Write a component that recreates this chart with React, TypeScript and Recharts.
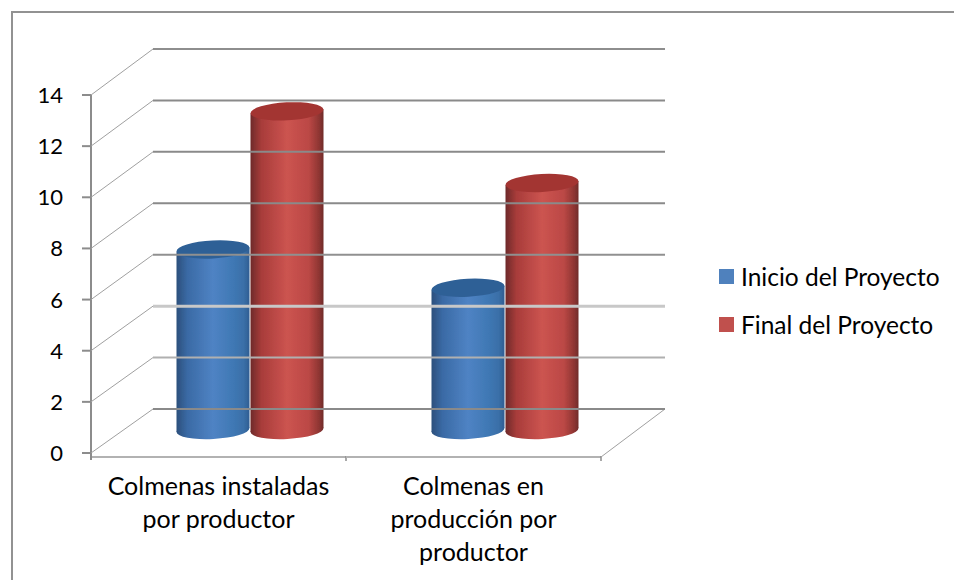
import { BarChart, Bar, XAxis, YAxis, Legend } from "recharts"

const categories = ["Colmenas instaladas\npor productor", "Colmenas en\nproducción por\nproductor"]
const inicio = [7.1, 5.6]
const final = [12.5, 9.7]
const yTicks = [0, 2, 4, 6, 8, 10, 12, 14]
// gridline colours as they come out in the picture, some are washed out
const gridColors: Record<number, string> = { 0: "#8a8a8a", 2: "#b0b0b0", 4: "#c8c8c8", 6: "#909090", 8: "#8a8a8a", 10: "#8a8a8a", 12: "#8a8a8a", 14: "#8e8e8e" }

const data = categories.map((name, i) => ({ name, inicio: inicio[i], final: final[i] }))

const FONT = "Lato, sans-serif"
const AXIS = "#8c8c8c"
const DEPTH_X = 62
const BAND = 255
const BACK_RIGHT = 665

function YTick({ x, y, payload }: any) {
  const backY = y - 44 - (payload.value / 14) * 2
  const color = gridColors[payload.value]
  return (
    <g>
      <path d={`M${x} ${y}L${x + DEPTH_X} ${backY}`} stroke="#a0a0a0" strokeWidth={1} fill="none" />
      <path d={`M${x + DEPTH_X} ${backY}H${BACK_RIGHT}`} stroke={color} strokeWidth={payload.value === 4 ? 3 : 2} fill="none" />
      <path d={`M${x - 9} ${y}H${x}`} stroke={AXIS} strokeWidth={2} />
      {payload.value === 0 && <path d={`M${x} ${y}V${y + 7}`} stroke={AXIS} strokeWidth={2} />}
      <text x={x - 28} y={y + 8} textAnchor="end" fontFamily={FONT} fontSize={22} fill="#000">
        {payload.value}
      </text>
    </g>
  )
}

function XTick({ x, y, payload, index }: any) {
  const left = x - BAND / 2
  const right = x + BAND / 2
  const floorY = y + 4
  const lines = String(payload.value).split("\n")
  return (
    <g>
      <path d={`M${left} ${floorY}H${right}`} stroke="#b2b2b2" strokeWidth={2} />
      <path d={`M${right} ${floorY - 1}V${floorY + 4}`} stroke={AXIS} strokeWidth={1.5} />
      {index === categories.length - 1 && (
        <path d={`M${right} ${floorY}L${BACK_RIGHT} ${floorY - 48}`} stroke="#a0a0a0" strokeWidth={1} fill="none" />
      )}
      {lines.map((line, i) => (
        <text key={line} x={x} y={y + 42 + i * 33} textAnchor="middle" fontFamily={FONT} fontSize={25} fill="#000">
          {line}
        </text>
      ))}
    </g>
  )
}

function Cylinder({ x, y, width, height, dataKey }: any) {
  const cx = x + width / 2 + 31
  const rx = width / 2 - 0.5
  const ry = 9
  const tilt = 2
  const top = y - 22
  const base = y + height - 23
  const grad = dataKey === "inicio" ? "url(#bodyBlue)" : "url(#bodyRed)"
  const cap = dataKey === "inicio" ? "#2f6096" : "#a33433"
  const side = `M${cx - rx} ${top + tilt}L${cx + rx} ${top - tilt}V${base - tilt}L${cx - rx} ${base + tilt}Z`
  return (
    <g filter="url(#soft)">
      <ellipse cx={cx} cy={base} rx={rx} ry={ry} fill={grad} transform={`rotate(-3 ${cx} ${base})`} />
      <path d={side} fill={grad} />
      <ellipse cx={cx} cy={top} rx={rx} ry={ry} fill={cap} transform={`rotate(-3 ${cx} ${top})`} />
    </g>
  )
}

function LegendBox({ payload }: any) {
  return (
    <div>
      {(payload || []).map((item: any) => (
        <div key={item.value} style={{ display: "flex", alignItems: "center", height: 48, fontFamily: FONT, fontSize: 24.5, color: "#000", whiteSpace: "nowrap" }}>
          <span style={{ width: 15, height: 15, background: item.color, marginRight: 7 }} />
          {item.value}
        </div>
      ))}
    </div>
  )
}

export default function App() {
  return (
    <div style={{ position: "absolute", left: 0, top: 0, width: 954, height: 580, background: "#fff", overflow: "hidden" }}>
      <div style={{ position: "absolute", left: 11, top: 11, width: 960, height: 600, border: "2px solid #929292" }} />
      <BarChart
        width={954}
        height={580}
        data={data}
        margin={{ top: 95, right: 353, bottom: 0, left: 0 }}
        barCategoryGap={53.5}
        barGap={0}
        barSize={74}
        style={{ position: "absolute", left: 0, top: 0 }}
      >
        <defs>
          <linearGradient id="bodyBlue" x1="0" y1="0" x2="1" y2="0">
            <stop offset="0" stopColor="#2c4f7c" />
            <stop offset="0.15" stopColor="#3a6aa5" />
            <stop offset="0.5" stopColor="#4f83c4" />
            <stop offset="0.78" stopColor="#3f78b4" />
            <stop offset="0.92" stopColor="#3a6fa8" />
            <stop offset="1" stopColor="#2f5e92" />
          </linearGradient>
          <linearGradient id="bodyRed" x1="0" y1="0" x2="1" y2="0">
            <stop offset="0" stopColor="#6e2a2a" />
            <stop offset="0.15" stopColor="#a83c3a" />
            <stop offset="0.5" stopColor="#cc5450" />
            <stop offset="0.8" stopColor="#bb4845" />
            <stop offset="0.94" stopColor="#8e3532" />
            <stop offset="1" stopColor="#6f2b2a" />
          </linearGradient>
          <filter id="soft" x="-10%" y="-10%" width="120%" height="120%">
            <feGaussianBlur stdDeviation="0.6" />
          </filter>
        </defs>
        <XAxis dataKey="name" height={127} interval={0} axisLine={false} tickLine={false} tickSize={0} tickMargin={0} tick={<XTick />} />
        <YAxis
          type="number"
          domain={[0, 14]}
          ticks={yTicks}
          interval={0}
          width={91}
          tickSize={0}
          tickMargin={0}
          tickLine={false}
          axisLine={{ stroke: AXIS, strokeWidth: 2 }}
          tick={<YTick />}
        />
        <Legend
          layout="vertical"
          align="center"
          verticalAlign="middle"
          itemSorter={null}
          wrapperStyle={{ left: 719, top: 252, width: 230 }}
          content={<LegendBox />}
        />
        <Bar dataKey="inicio" name="Inicio del Proyecto" fill="#4f81bd" shape={<Cylinder />} isAnimationActive={false} />
        <Bar dataKey="final" name="Final del Proyecto" fill="#c0504d" shape={<Cylinder />} isAnimationActive={false} />
      </BarChart>
    </div>
  )
}
